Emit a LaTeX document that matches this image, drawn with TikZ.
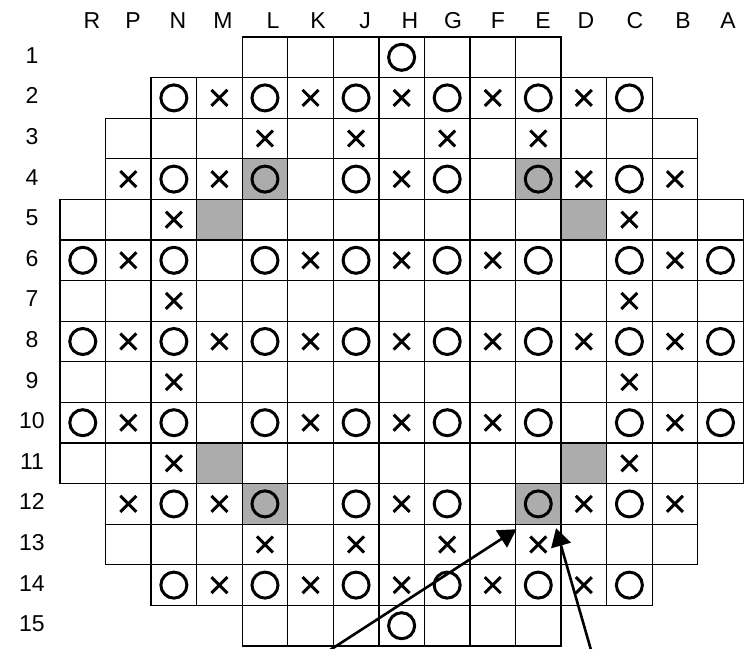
\documentclass[tikz,border=0pt]{standalone}
\usepackage{fontspec}
\setmainfont{Liberation Sans}
\usetikzlibrary{shapes.misc,arrows.meta}
\begin{document}
\begin{tikzpicture}[x=1pt,y=-1pt,
  cellbox/.style={draw, line width=1.3pt, minimum width=45.55pt, minimum height=40.6pt, inner sep=0pt, outer sep=0pt},
  shade/.style={fill=gray!65, draw, line width=1.3pt},
  ring/.style={circle, draw, line width=3pt, minimum size=26pt, inner sep=0pt},
  crossmark/.style={cross out, draw, line width=3pt, minimum size=13pt, inner sep=0pt},
  lab/.style={font=\fontsize{23}{25}\selectfont, inner sep=0pt},
  pointer/.style={line width=2.6pt, -{Triangle[length=18pt,width=20pt]}}
]
\useasboundingbox (0,0) rectangle (746,648);
% grid cells
\foreach \r/\a/\b in {1/5/11,2/3/13,3/2/14,4/2/14,5/1/15,6/1/15,7/1/15,8/1/15,9/1/15,10/1/15,11/1/15,12/2/14,13/2/14,14/3/13,15/5/11}{
  \foreach \c in {\a,...,\b}{
    \node[cellbox] (c\r-\c) at ({60+(\c-0.5)*45.55},{37+(\r-0.5)*40.6}) {};
  }
}
% shaded cells
\foreach \r/\c in {4/5,4/11,5/4,5/12,11/4,11/12,12/5,12/11}{
  \path[shade] (c\r-\c.north west) rectangle (c\r-\c.south east);
}
% rings
\foreach \r/\c in {1/8,2/3,2/5,2/7,2/9,2/11,2/13,4/3,4/5,4/7,4/9,4/11,4/13,
  6/1,6/3,6/5,6/7,6/9,6/11,6/13,6/15,8/1,8/3,8/5,8/7,8/9,8/11,8/13,8/15,
  10/1,10/3,10/5,10/7,10/9,10/11,10/13,10/15,12/3,12/5,12/7,12/9,12/11,12/13,
  14/3,14/5,14/7,14/9,14/11,14/13,15/8}{
  \node[ring] (o\r-\c) at (c\r-\c) {};
}
% crosses
\foreach \r/\c in {2/4,2/6,2/8,2/10,2/12,3/5,3/7,3/9,3/11,4/2,4/4,4/8,4/12,4/14,
  5/3,5/13,6/2,6/6,6/8,6/10,6/14,7/3,7/13,8/2,8/4,8/6,8/8,8/10,8/12,8/14,
  9/3,9/13,10/2,10/6,10/8,10/10,10/14,11/3,11/13,12/2,12/4,12/8,12/12,12/14,
  13/5,13/7,13/9,13/11,14/4,14/6,14/8,14/10,14/12}{
  \node[crossmark] (x\r-\c) at (c\r-\c) {};
}
% column labels
\foreach \t/\x in {R/92,P/133,N/178,M/223,L/273,K/318,J/365,H/410,G/453,F/498,E/543,D/586,C/635,B/683,A/728}{
  \node[lab] (col\t) at (\x,21) {\t};
}
% row labels
\foreach \r in {1,...,15}{
  \node[lab] (row\r) at (32,{37+(\r-0.5)*40.6-2}) {\r};
}
% arrows
\coordinate (tail1) at (330,650);
\coordinate (tail2) at (591,650);
\draw[pointer] (tail1) -- ([shift={(1pt,-5pt)}]c12-11.south west);
\draw[pointer] (tail2) -- ([shift={(-5pt,-4pt)}]c12-11.south east);
\end{tikzpicture}
\end{document}
